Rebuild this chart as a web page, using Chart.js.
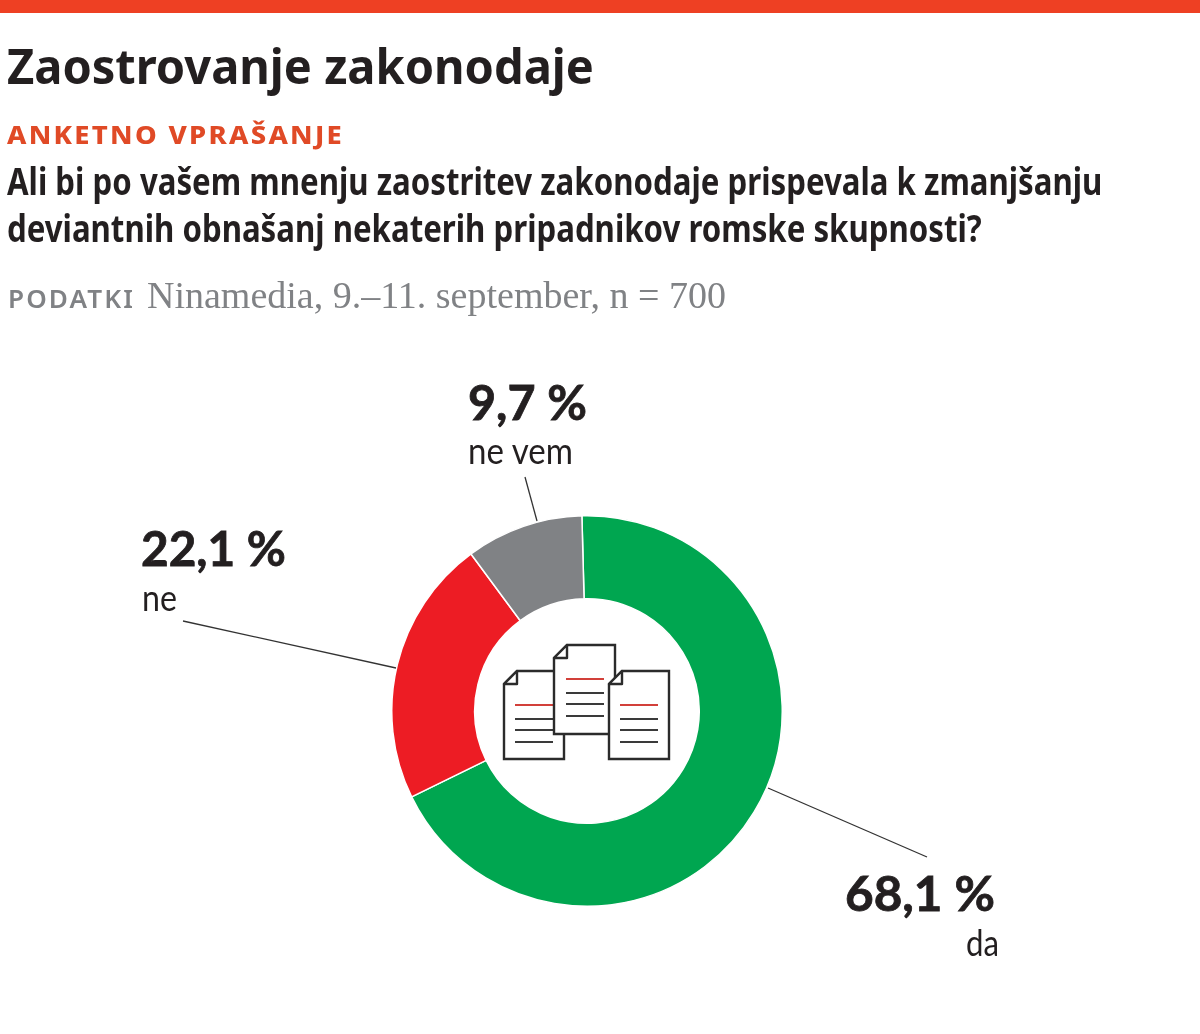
<!DOCTYPE html>
<html lang="sl"><head><meta charset="utf-8">
<script src="https://cdn.jsdelivr.net/npm/chart.js@4"></script>
<style>
html,body{margin:0;padding:0;background:#fff}
#page{position:relative;width:1200px;height:1034px;overflow:hidden;background:#fff}
#bar{position:absolute;left:0;top:0;width:1200px;height:13px;background:#EE4023}
#wrap{position:absolute;left:391px;top:515px;width:392px;height:392px}
svg{position:absolute;left:0;top:0}
.sans{font-family:"Noto Sans",sans-serif}
.lato{font-family:"Lato",sans-serif}
.serif{font-family:"Liberation Serif",serif}
</style></head><body>
<div id="page">
<div id="bar"></div>
<div id="wrap"><canvas id="c" width="392" height="392"></canvas></div>
<svg id="ov" width="1200" height="1034" xmlns="http://www.w3.org/2000/svg"></svg>
</div>
<script>
const categories=["da","ne","ne vem"];
const values=[68.1,22.1,9.7];
const valueLabels=["68,1 %","22,1 %","9,7 %"];
const colors=["#00A650","#ED1C24","#808285"];

new Chart(document.getElementById("c"),{
  type:"doughnut",
  data:{labels:categories,datasets:[{data:values,backgroundColor:colors,borderColor:"#ffffff",borderWidth:1.5}]},
  options:{responsive:false,animation:false,cutout:"57.5%",rotation:-1.5,
    layout:{padding:0},
    plugins:{legend:{display:false},tooltip:{enabled:false}}}
});

const NS="http://www.w3.org/2000/svg",ov=document.getElementById("ov");
function el(n,a,t){const e=document.createElementNS(NS,n);for(const k in a)e.setAttribute(k,a[k]);if(t)e.textContent=t;ov.appendChild(e);return e}
function txt(s,x,y,w,size,weight,fill,cls,track,bold){
  const t=el("text",{x:0,y:0,"font-size":size,"font-weight":weight,fill,class:cls||"sans"},s);
  if(track)t.setAttribute("letter-spacing",track);
  if(bold){t.setAttribute("stroke",fill);t.setAttribute("stroke-width",bold)}
  const n=t.getComputedTextLength()-(track||0);
  t.setAttribute("transform",`translate(${x} ${y}) scale(${w/n} 1)`);
}
function draw(){
txt("Zaostrovanje zakonodaje",7,84,587,49,700,"#231F20");
txt("ANKETNO VPRAŠANJE",7,144,335,24,800,"#E04A26","sans",2);
txt("Ali bi po vašem mnenju zaostritev zakonodaje prispevala k zmanjšanju",7,195,1096,37,700,"#231F20");
txt("deviantnih obnašanj nekaterih pripadnikov romske skupnosti?",7,242,975,37,700,"#231F20");
txt("PODATKI",8,308,125,25,600,"#808285","sans",2);
txt("Ninamedia, 9.–11. september, n = 700",147,308,579,37,400,"#808285","serif");

[[525,477,537,521],[183,621,396,668],[768,788,927,857]].forEach(l=>
  el("line",{x1:l[0],y1:l[1],x2:l[2],y2:l[3],stroke:"#333","stroke-width":1.3}));

const dark="#231F20";
txt(valueLabels[2],468,420,119,48,700,dark,"lato",0,0.8);
txt(categories[2],468,464,105,36,400,dark,"lato");
txt(valueLabels[1],141,566,145,48,700,dark,"lato",0,0.8);
txt(categories[1],142,611,35,36,400,dark,"lato");
txt(valueLabels[0],845,911,150,48,700,dark,"lato",0,0.8);
txt(categories[0],966,956,33,36,400,dark,"lato");

function doc(l,r,t,b,f,ys,lx1,lx2){
  el("path",{d:`M${l+f} ${t}H${r}V${b}H${l}V${t+f}Z`,fill:"#fff",stroke:"#2b2b2b","stroke-width":2.4});
  el("path",{d:`M${l} ${t+f}L${l+f} ${t}V${t+f}Z`,fill:"#fff",stroke:"#2b2b2b","stroke-width":2.4,"stroke-linejoin":"round"});
  ys.forEach((y,i)=>el("line",{x1:lx1,x2:lx2,y1:y,y2:y,stroke:i?"#3a3a3a":"#D2403A","stroke-width":2.2}));
}
doc(504,564,671,759,13,[705,719,730,742],515,553);
doc(554,615,645,734,13,[679,693,704,716],566,604);
doc(609,669,671,759,13,[705,719,730,742],620,658);
}
draw();
</script>
</body></html>
